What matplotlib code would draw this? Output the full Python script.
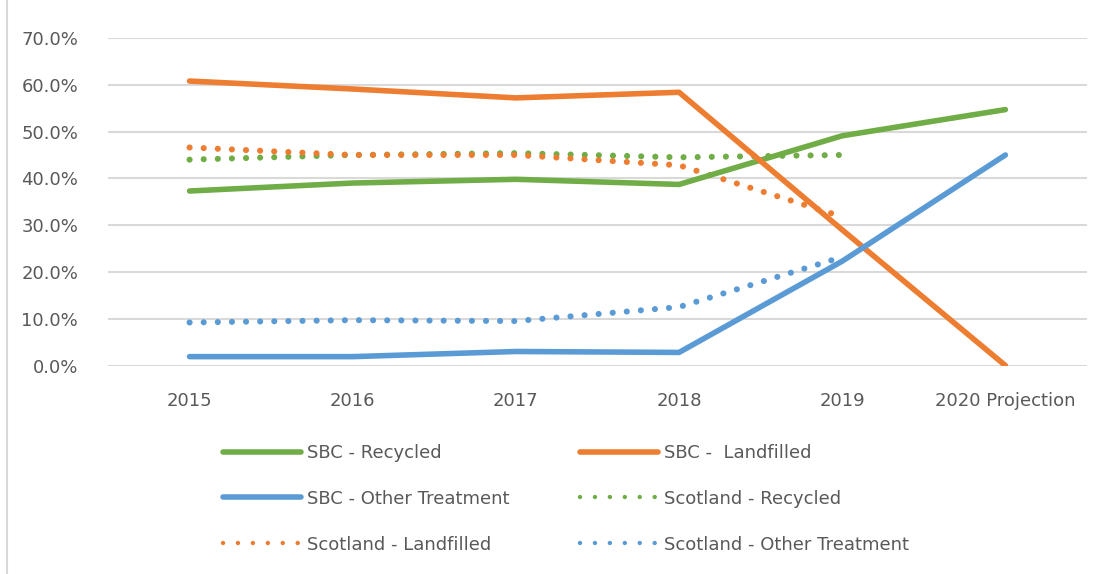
import matplotlib
matplotlib.use("Agg")
import matplotlib.pyplot as plt
from matplotlib.lines import Line2D
from matplotlib.ticker import PercentFormatter

plt.rcParams["font.family"] = ["DejaVu Sans"]

years = ["2015", "2016", "2017", "2018", "2019", "2020 Projection"]

sbc_recycled = [37.3, 39.0, 39.8, 38.7, 49.1, 54.7]
sbc_landfilled = [60.8, 59.1, 57.2, 58.4, 29.0, 0.0]
sbc_other = [1.9, 1.9, 3.0, 2.8, 22.3, 45.0]
scot_recycled = [44.0, 45.0, 45.4, 44.5, 45.0]
scot_landfilled = [46.6, 45.0, 45.0, 42.8, 31.8]
scot_other = [9.2, 9.7, 9.5, 12.5, 23.2]

GREEN = "#70AD47"
ORANGE = "#ED7D31"
BLUE = "#5B9BD5"
TEXT = "#595959"

fig = plt.figure(figsize=(11.12, 5.74), dpi=100)
ax = fig.add_axes([0.0971, 0.3632, 0.8804, 0.5706])

solid = dict(linewidth=4.0, solid_capstyle="round", solid_joinstyle="round")
dotted = dict(linewidth=4.4, linestyle=(0, (0.01, 2.3)), dash_capstyle="round")
leg_dotted = dict(linewidth=3.2, linestyle=(0, (0.01, 3.35)), dash_capstyle="round")

x6 = range(len(years))
x5 = range(len(scot_recycled))

ax.plot(x6, sbc_recycled, color=GREEN, **solid, zorder=3)
ax.plot(x6, sbc_landfilled, color=ORANGE, **solid, zorder=3)
ax.plot(x6, sbc_other, color=BLUE, **solid, zorder=3)
ax.plot(x5, scot_recycled, color=GREEN, **dotted, zorder=2)
ax.plot(x5, scot_landfilled, color=ORANGE, **dotted, zorder=2)
ax.plot(x5, scot_other, color=BLUE, **dotted, zorder=2)

ax.set_xlim(-0.5, len(years) - 0.5)
ax.set_ylim(0, 70)
ax.set_yticks(range(0, 71, 10))
ax.yaxis.set_major_formatter(PercentFormatter(decimals=1))
ax.set_xticks(list(x6))
ax.set_xticklabels(years)
ax.grid(axis="y", color="#D9D9D9", linewidth=1.5)
ax.set_axisbelow(True)
for s in ax.spines.values():
    s.set_visible(False)
ax.tick_params(length=0, labelsize=13, colors=TEXT)
ax.tick_params(axis="y", pad=21.5)
ax.tick_params(axis="x", pad=19)

# chart area border on the left
fig.add_artist(Line2D([0.0065, 0.0065], [0, 1], color="#D9D9D9", linewidth=1.5))

handles = [
    Line2D([], [], color=GREEN, **solid),
    Line2D([], [], color=BLUE, **solid),
    Line2D([], [], color=ORANGE, **leg_dotted),
    Line2D([], [], color=ORANGE, **solid),
    Line2D([], [], color=GREEN, **leg_dotted),
    Line2D([], [], color=BLUE, **leg_dotted),
]
labels = [
    "SBC - Recycled",
    "SBC - Other Treatment",
    "Scotland - Landfilled",
    "SBC -  Landfilled",
    "Scotland - Recycled",
    "Scotland - Other Treatment",
]
leg = fig.legend(
    handles, labels, ncol=2, loc="center", bbox_to_anchor=(0.509, 0.131),
    frameon=False, fontsize=13, handlelength=4.3, handletextpad=0.35,
    columnspacing=3.9, labelspacing=1.55, labelcolor=TEXT,
)

fig.savefig("out.png", dpi=100, facecolor="white")
